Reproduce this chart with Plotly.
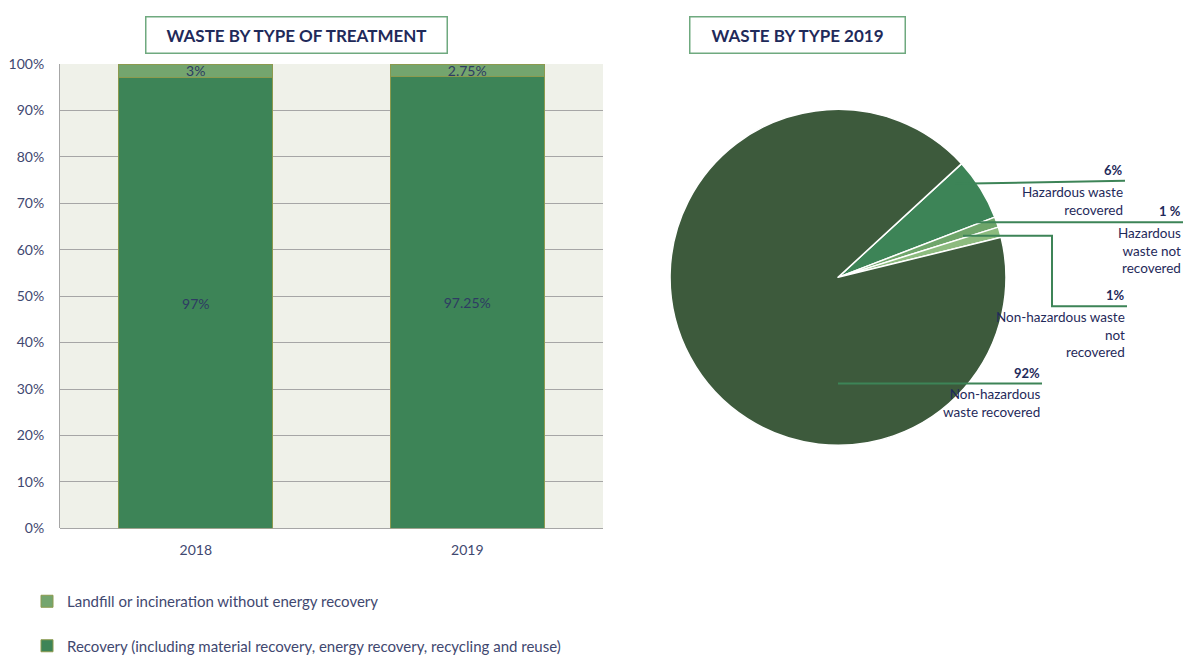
import plotly.graph_objects as go

# ---------------- data ----------------
years = ["2018", "2019"]
landfill = [3, 2.75]
recovery = [97, 97.25]
landfill_text = ["3%", "2.75%"]
recovery_text = ["97%", "97.25%"]
legend_landfill = "Landfill or incineration without energy recovery"
legend_recovery = "Recovery (including material recovery, energy recovery, recycling and reuse)"
y_ticks = list(range(0, 101, 10))
y_ticktext = [f"{v}%" for v in y_ticks]

pie_labels = ["Hazardous waste recovered", "Hazardous waste not recovered",
              "Non-hazardous waste not recovered", "Non-hazardous waste recovered"]
pie_values = [6, 1, 1, 92]
pie_pct_text = ["6%", "1 %", "1%", "92%"]
pie_label_text = ["Hazardous waste<br>recovered", "Hazardous<br>waste not<br>recovered",
                  "Non-hazardous waste<br>not<br>recovered", "Non-hazardous<br>waste recovered"]

title_left = "WASTE BY TYPE OF TREATMENT"
title_right = "WASTE BY TYPE 2019"

# ---------------- layout helpers ----------------
W, H = 1191, 662
def px(x): return x / W
def py(y): return 1 - y / H

FONT = "Lato, 'Open Sans', sans-serif"
NAVY = "#1F2A5A"
GREY = "#3F4870"
C_REC = "#3D8457"
C_LAND = "#74A56E"

fig = go.Figure()

fig.add_trace(go.Bar(
    x=years, y=recovery, name=legend_recovery, legendgroup="rec", legendrank=2,
    marker=dict(color=C_REC, line=dict(color="#8C9A4E", width=1)),
    text=recovery_text, textposition="inside", insidetextanchor="middle",
    textangle=0, constraintext="none",
    textfont=dict(color="#2E3B63", size=14, family=FONT),
))
fig.add_trace(go.Bar(
    x=years, y=landfill, name=legend_landfill, legendgroup="land", legendrank=1,
    marker=dict(color=C_LAND, line=dict(color="#8C9A4E", width=1)),
    text=landfill_text, textposition="inside", insidetextanchor="middle",
    textangle=0, constraintext="none",
    textfont=dict(color="#2E3B63", size=14, family=FONT),
))

fig.add_trace(go.Pie(
    values=pie_values, labels=pie_labels, sort=False, direction="clockwise",
    rotation=47.4, textinfo="none", showlegend=False,
    marker=dict(colors=[C_REC, "#6FA56A", "#8DBB7F", "#3D5A3C"],
                line=dict(color="white", width=1.5)),
    domain=dict(x=[px(664), px(1012)], y=[py(452), py(104)]),
))

# pie label layout (right edge x, leader-line y, leader start x/y, elbow x)
label_pos = [
    dict(xr=1125, yl=178, x0=955, y0=181, elbow=None),
    dict(xr=1183, yl=221, x0=968, y0=221, elbow=None),
    dict(xr=1127, yl=308, x0=963, y0=235, elbow=1052),
    dict(xr=1042, yl=388, x0=838, y0=388, elbow=None),
]
annotations = []
shapes = []
for pct, lab, p in zip(pie_pct_text, pie_label_text, label_pos):
    annotations.append(dict(
        x=px(p["xr"]), y=py(p["yl"] - 1), xref="paper", yref="paper",
        xanchor="right", yanchor="bottom", showarrow=False, align="right",
        text="<b>" + pct + "</b>", font=dict(size=13, color=NAVY, family=FONT)))
    annotations.append(dict(
        x=px(p["xr"]), y=py(p["yl"] + 1), xref="paper", yref="paper",
        xanchor="right", yanchor="top", showarrow=False, align="right",
        text=lab, font=dict(size=13.5, color=NAVY, family=FONT)))
    if p["elbow"] is None:
        path = f"M {px(p['x0'])},{py(p['y0'])} L {px(p['xr'])},{py(p['yl'])}"
    else:
        path = (f"M {px(p['x0'])},{py(p['y0'])} L {px(p['elbow'])},{py(p['y0'])} "
                f"L {px(p['elbow'])},{py(p['yl'])} L {px(p['xr'])},{py(p['yl'])}")
    shapes.append(dict(type="path", xref="paper", yref="paper", path=path,
                       line=dict(color=C_REC, width=2)))

for txt, x0, x1 in [(title_left, 145, 448), (title_right, 689, 906)]:
    annotations.append(dict(
        x=px((x0 + x1) / 2), y=py(26.5), xref="paper", yref="paper",
        xanchor="center", yanchor="middle", showarrow=False,
        text="<b>" + txt + "</b>", font=dict(size=17, color=NAVY, family=FONT),
        width=x1 - x0 - 3, height=35, borderpad=0,
        bordercolor="#6FA97F", borderwidth=1.5, bgcolor="white"))

fig.update_layout(
    width=W, height=H, margin=dict(l=0, r=0, t=0, b=0),
    paper_bgcolor="white", plot_bgcolor="#EFF1E9",
    barmode="stack", bargap=0.433,
    font=dict(family=FONT, size=14, color=GREY),
    xaxis=dict(domain=[px(60), px(603)], showgrid=False, showline=False,
               ticks="", tickfont=dict(size=14, color=GREY), ticklabelstandoff=12),
    yaxis=dict(domain=[py(538), py(57)], range=[0, 100], tickmode="array",
               tickvals=y_ticks, ticktext=y_ticktext,
               showgrid=True, gridcolor="#A6A6A6", gridwidth=1,
               zeroline=True, zerolinecolor="#A6A6A6", zerolinewidth=1,
               showline=True, linecolor="#A6A6A6", linewidth=1,
               ticks="", tickfont=dict(size=14, color=GREY),
               ticklabelstandoff=12),
    legend=dict(x=px(27), y=py(597), xanchor="left", yanchor="top",
                orientation="v", traceorder="grouped", tracegroupgap=22,
                font=dict(size=15, color=GREY, family=FONT), bgcolor="rgba(0,0,0,0)"),
    annotations=annotations, shapes=shapes,
)

post = (
    "document.documentElement.style.overflow='hidden';"
    "document.body.style.margin='0';"
    "document.body.style.overflow='hidden';"
    "var gd=document.getElementById('{plot_id}');"
    "gd.style.position='fixed';gd.style.top='0px';gd.style.left='0px';"
)
fig.write_html("out.html", post_script=post, config={"displayModeBar": False})
